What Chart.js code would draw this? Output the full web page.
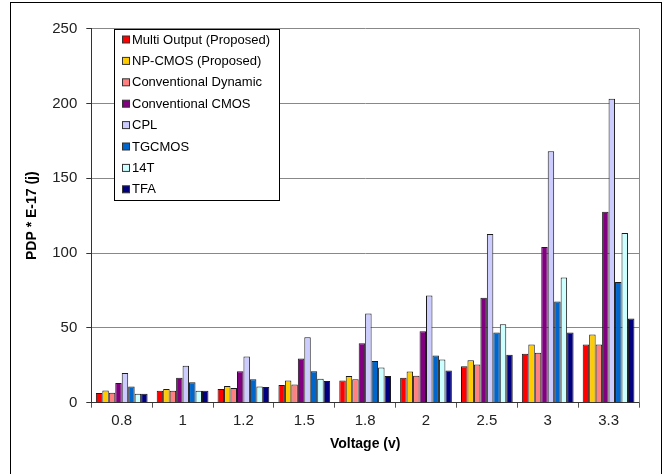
<!DOCTYPE html>
<html>
<head>
<meta charset="utf-8">
<script src="https://cdn.jsdelivr.net/npm/chart.js@4/dist/chart.umd.min.js"></script>
<style>
  body { margin: 0; background: #fff; }
  #wrap { position: relative; width: 667px; height: 474px; }
</style>
</head>
<body>
<div id="wrap"><canvas id="myChart" width="667" height="474"></canvas></div>
<script>
const voltages = ['0.8', '1', '1.2', '1.5', '1.8', '2', '2.5', '3', '3.3'];

const multiOutput = [6.5, 8.0, 9.1, 11.8, 14.9, 16.7, 24.3, 32.7, 38.9];
const npCmos = [8.2, 9.1, 11.1, 14.9, 17.8, 20.9, 28.3, 38.9, 45.6];
const convDynamic = [6.7, 8.0, 9.8, 12.2, 15.6, 18.0, 25.6, 33.4, 38.9];
const convCmos = [13.1, 16.7, 21.1, 29.6, 39.8, 47.8, 70.1, 104.1, 127.7];
const cpl = [19.8, 24.7, 30.9, 43.8, 59.6, 71.6, 112.8, 168.0, 203.2];
const tgcmos = [10.9, 13.6, 15.6, 21.1, 27.8, 31.6, 47.0, 67.6, 80.6];
const t14 = [6.0, 8.0, 10.9, 16.0, 23.6, 28.9, 52.5, 83.7, 113.5];
const tfa = [6.0, 8.0, 10.5, 14.5, 17.8, 21.6, 32.0, 47.0, 56.3];

const yTicks = [0, 50, 100, 150, 200, 250];

const FONT = "'Liberation Sans', Arial, sans-serif";

function makeSet(label, data, color) {
  return {
    label: label,
    data: data,
    backgroundColor: color,
    borderColor: '#1a1a1a',
    borderWidth: 1,
    categoryPercentage: 0.85,
    barPercentage: 1.0,
  };
}

// outer frame + right edge of plot area
const framePlugin = {
  id: 'frame',
  beforeDraw(chart) {
    const c = chart.ctx;
    c.save();
    c.fillStyle = '#fff';
    c.fillRect(0, 0, chart.width, chart.height);
    c.strokeStyle = '#000';
    c.lineWidth = 1;
    c.strokeRect(10.5, 2.5, 651, 490);
    c.restore();
  },
  beforeDatasetsDraw(chart) {
    const a = chart.chartArea;
    const c = chart.ctx;
    c.save();
    c.strokeStyle = '#888';
    c.lineWidth = 1;
    c.beginPath();
    c.moveTo(Math.round(a.right) + 0.5, a.top);
    c.lineTo(Math.round(a.right) + 0.5, a.bottom);
    c.stroke();
    c.restore();
  }
};

// boxed legend sitting inside the plot area
const legendBoxPlugin = {
  id: 'legendBox',
  afterDatasetsDraw(chart) {
    const a = chart.chartArea;
    const c = chart.ctx;
    const x = Math.round(a.left + 23) + 0.5;
    const y = Math.round(a.top) + 0.5;
    const w = 165, h = 171;
    c.save();
    c.fillStyle = '#fff';
    c.fillRect(x, y, w, h);
    c.strokeStyle = '#000';
    c.lineWidth = 1;
    c.strokeRect(x, y, w, h);
    c.font = '13px ' + FONT;
    c.textBaseline = 'middle';
    chart.data.datasets.forEach((ds, i) => {
      const cy = y + 10 + i * 21.4;
      c.fillStyle = ds.backgroundColor;
      c.fillRect(x + 8, cy - 3.5, 7, 7);
      c.strokeStyle = '#333';
      c.strokeRect(x + 8, cy - 3.5, 7, 7);
      c.fillStyle = '#000';
      c.fillText(ds.label, x + 17.5, cy + 0.5);
    });
    c.restore();
  }
};

const ctx = document.getElementById('myChart');

const chart = new Chart(ctx, {
  type: 'bar',
  data: {
    labels: voltages,
    datasets: [
      makeSet('Multi Output (Proposed)', multiOutput, '#FF0000'),
      makeSet('NP-CMOS (Proposed)', npCmos, '#FFCC00'),
      makeSet('Conventional Dynamic', convDynamic, '#FF8080'),
      makeSet('Conventional CMOS', convCmos, '#800080'),
      makeSet('CPL', cpl, '#CCCCFF'),
      makeSet('TGCMOS', tgcmos, '#0066CC'),
      makeSet('14T', t14, '#CCFFFF'),
      makeSet('TFA', tfa, '#000080'),
    ],
  },
  options: {
    responsive: false,
    animation: false,
    layout: { padding: { left: 20, top: 28.7, right: 28, bottom: 0 } },
    plugins: {
      legend: { display: false },
      tooltip: { enabled: false },
    },
    scales: {
      x: {
        grid: {
          display: true,
          drawOnChartArea: false,
          offset: true,
          tickLength: 5,
          tickColor: '#555',
        },
        border: { color: '#333', width: 1 },
        ticks: {
          color: '#222',
          font: { family: FONT, size: 15 },
          padding: 4,
          maxRotation: 0,
        },
        title: {
          display: true,
          text: 'Voltage (v)',
          color: '#000',
          font: { family: FONT, size: 14, weight: 'bold' },
          padding: { top: 0, bottom: 21 },
        },
        afterFit(scale) { scale.height = 71.3; },
      },
      y: {
        min: 0,
        max: 250,
        afterBuildTicks(scale) { scale.ticks = yTicks.map(v => ({ value: v })); },
        grid: {
          color: '#888',
          tickColor: '#333',
          tickLength: 5,
          lineWidth: 1,
        },
        border: { color: '#333', width: 1 },
        ticks: {
          color: '#222',
          font: { family: FONT, size: 15 },
          padding: 9,
        },
        title: {
          display: true,
          text: 'PDP * E-17 (j)',
          color: '#000',
          font: { family: FONT, size: 14, weight: 'bold' },
          padding: { top: 4, bottom: 0 },
        },
        afterFit(scale) { scale.width = 71.3; },
      },
    },
  },
  plugins: [framePlugin, legendBoxPlugin],
});
</script>
</body>
</html>
